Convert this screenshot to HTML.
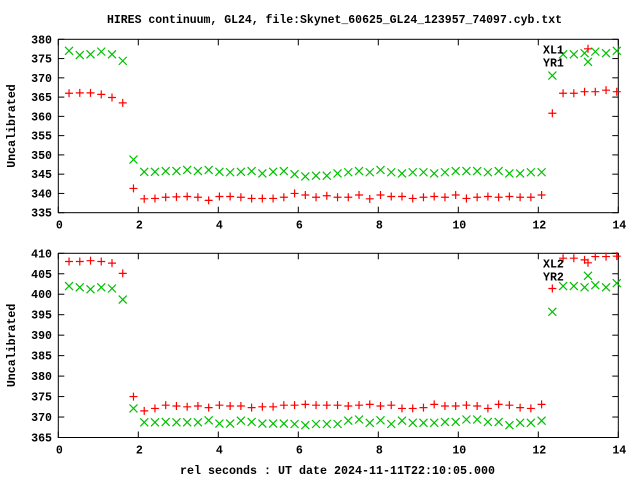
<!DOCTYPE html>
<html><head><meta charset="utf-8"><style>
body{margin:0;background:#fff;}
svg{display:block;font-family:"Liberation Mono",monospace;font-weight:bold;font-size:11.6px;}
</style></head><body>
<svg id="c" width="640" height="480" viewBox="0 0 640 480">
<text x="107" y="23" textLength="455" lengthAdjust="spacingAndGlyphs">HIRES continuum, GL24, file:Skynet_60625_GL24_123957_74097.cyb.txt</text>
<text x="180" y="474" textLength="315" lengthAdjust="spacingAndGlyphs">rel seconds : UT date 2024-11-11T22:10:05.000</text>
</svg>
<script>
const xTicks=[0,2,4,6,8,10,12,14];
const topTicks=[335,340,345,350,355,360,365,370,375,380];
const botTicks=[365,370,375,380,385,390,395,400,405,410];
const xl1=[366.0,366.1,366.1,365.7,364.9,363.5,341.3,338.6,338.7,339.0,339.1,339.2,339.0,338.2,339.2,339.2,339.0,338.7,338.7,338.7,339.0,340.0,339.6,339.0,339.4,339.0,
339.0,339.6,338.6,339.6,339.2,339.2,338.7,339.0,339.2,339.0,339.6,338.7,339.0,339.2,339.0,339.2,339.0,339.0,339.6,360.8,366.0,366.0,366.4,366.4,366.8,366.4];
const yr1=[377.0,375.9,376.1,376.8,376.1,374.4,348.8,345.6,345.6,345.8,345.8,346.1,345.8,346.1,345.6,345.5,345.6,345.8,345.2,345.6,345.8,345.0,344.4,344.6,344.6,345.2,
345.5,345.8,345.5,346.1,345.5,345.2,345.5,345.5,345.2,345.5,345.8,345.8,345.8,345.5,345.8,345.2,345.2,345.5,345.5,370.6,376.1,376.1,376.4,376.8,376.4,377.0];
const xl2=[408.0,408.0,408.2,408.0,407.6,405.1,375.0,371.5,372.1,372.9,372.7,372.5,372.7,372.3,372.9,372.7,372.7,372.3,372.5,372.5,372.9,372.9,373.1,372.9,372.9,372.9,
372.7,372.9,373.1,372.7,372.9,372.1,372.1,372.3,373.1,372.7,372.7,372.9,372.7,372.1,373.1,372.9,372.3,372.1,373.1,401.4,408.8,408.8,408.4,409.2,409.2,409.3];
const yr2=[402.0,401.7,401.2,401.7,401.4,398.7,372.1,368.7,368.7,368.8,368.7,368.7,368.7,369.2,368.4,368.4,369.1,368.8,368.4,368.4,368.4,368.3,368.0,368.3,368.3,368.3,
369.1,369.4,368.6,369.2,368.3,369.1,368.6,368.6,368.6,368.8,368.8,369.4,369.4,368.8,368.8,368.0,368.6,368.6,369.1,395.7,402.0,402.0,401.7,402.2,401.7,402.7];
const times=xl1.map((_,i)=>0.2685*(i+1));
const NS="http://www.w3.org/2000/svg";
const svg=document.getElementById('c');
function mk(tag,attrs,parent){const e=document.createElementNS(NS,tag);for(const k in attrs)e.setAttribute(k,attrs[k]);(parent||svg).appendChild(e);return e;}
const X0=58.3,X1=618.3;
function sx(v){return X0+(v-0)/(14-0)*(X1-X0);}
function panel(top,bot,ymin,ymax,yt,s1,s2,n1,n2,idx){
  const g=mk('g',{});
  
  
  const sy=v=>bot-(v-ymin)/(ymax-ymin)*(bot-top);
  const r=mk('rect',{x:X0,y:top,width:X1-X0,height:bot-top,fill:'none',stroke:'#000','stroke-width':1},g);
  
  
  yt.forEach(v=>{const y=sy(v);
    mk('line',{x1:X0,x2:X0+6,y1:y,y2:y,stroke:'#000'},g);
    mk('line',{x1:X1,x2:X1-6,y1:y,y2:y,stroke:'#000'},g);
    const t=mk('text',{x:52,y:y+4,'text-anchor':'end'},g);t.textContent=v;
    
    });
  xTicks.forEach(v=>{const x=sx(v);
    mk('line',{x1:x,x2:x,y1:bot,y2:bot-6,stroke:'#000'},g);
    mk('line',{x1:x,x2:x,y1:top,y2:top+6,stroke:'#000'},g);
    const t=mk('text',{x:x+1,y:bot+16,'text-anchor':'middle'},g);t.textContent=v;
    
    });
  const yl=mk('text',{x:0,y:0,'text-anchor':'middle',transform:`translate(15,${(top+bot)/2}) rotate(-90)`},g);
  yl.textContent='Uncalibrated';
  
  
  function plus(x,y,par){mk('path',{d:`M${x-4},${y}h8M${x},${y-4}v8`,stroke:'#f00','stroke-width':1.2,fill:'none'},par);}
  function cross(x,y,par){mk('path',{d:`M${x-4},${y-4}l8,8M${x-4},${y+4}l8,-8`,stroke:'#00c000','stroke-width':1.2,fill:'none'},par);}
  const g1=mk('g',{},g);
  s1.forEach((v,i)=>plus(sx(times[i]),sy(v),g1));
  const g2=mk('g',{},g);
  s2.forEach((v,i)=>cross(sx(times[i]),sy(v),g2));
  const l1=mk('text',{x:543,y:top+14},g);l1.textContent=n1;
  
  
  const l2=mk('text',{x:543,y:top+27},g);l2.textContent=n2;
  
  
  plus(588,top+9.5,g);cross(588,top+22.5,g);
}
panel(39.3,212.7,335,380,topTicks,xl1,yr1,'XL1','YR1',1);
panel(253.3,437.5,365,410,botTicks,xl2,yr2,'XL2','YR2',2);
</script>
</body></html>
